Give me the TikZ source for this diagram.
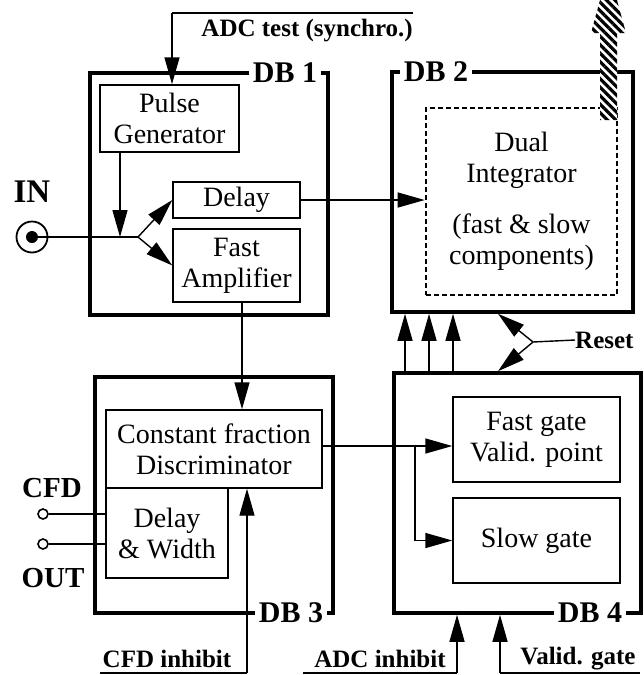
\documentclass[tikz,border=0pt]{standalone}
\usepackage{fontspec}
\setmainfont{Liberation Serif}
\usetikzlibrary{arrows.meta,patterns.meta}

\tikzset{
  blk/.style={draw,line width=1.4pt,align=center,inner sep=0pt,font=\fontsize{28}{31}\selectfont},
  dbframe/.style={draw,line width=3.6pt,inner sep=0pt},
  dblab/.style={fill=white,inner xsep=4pt,inner ysep=1pt,font=\bfseries\fontsize{30}{32}\selectfont},
  sig/.style={font=\bfseries\fontsize{25}{27}\selectfont},
  wire/.style={line width=1.4pt},
  arr/.style={wire,-{Triangle[length=27pt,width=15pt]}},
}

\begin{document}
\begin{tikzpicture}[x=1pt,y=-1pt]
    \useasboundingbox (0,0) rectangle (643,675);
    % daughter boards
    \node[dbframe,minimum width=238pt,minimum height=242pt] (db1) at (209,194) {};
    \node[dbframe,minimum width=241pt,minimum height=240pt] (db2) at (512.5,192) {};
    \node[dbframe,minimum width=238pt,minimum height=236pt] (db3) at (214,495) {};
    \node[dbframe,minimum width=247pt,minimum height=240pt] (db4) at (517.5,493) {};
    \node[dblab] (db1lab) at (285,73) {DB 1};
    \node[dblab] (db2lab) at (436,72) {DB 2};
    \node[dblab] (db3lab) at (291,613) {DB 3};
    \node[dblab] (db4lab) at (590,613) {DB 4};

    % blocks
    \node[blk,minimum width=139pt,minimum height=67pt] (pulse) at (169.5,118.5) {Pulse\\Generator};
    \node[blk,minimum width=127pt,minimum height=36pt] (delay) at (236.5,200) {Delay};
    \node[blk,minimum width=127pt,minimum height=73pt] (amp) at (236.5,265.5) {Fast\\Amplifier};
    \node[blk,dash pattern=on 5pt off 3pt,line width=2.6pt,minimum width=191pt,minimum height=187pt] (dual) at (521.5,201.5) {Dual\\Integrator\\[20pt](fast \& slow\\components)};
    \node[blk,minimum width=216pt,minimum height=78pt] (cfd) at (214,449) {Constant fraction\\Discriminator};
    \node[blk,minimum width=122pt,minimum height=90pt] (dw) at (167,533) {Delay\\\& Width};
    \node[blk,minimum width=167pt,minimum height=85pt] (fast) at (536.5,439.5) {Fast gate\\Valid. point};
    \node[blk,minimum width=167pt,minimum height=85pt] (slow) at (536.5,540.5) {Slow gate};

    % input
    \node[font=\bfseries\fontsize{33}{35}\selectfont] (inlab) at (32,192) {IN};
    \node[circle,draw,line width=1.8pt,minimum size=31pt,inner sep=0pt] (in) at (32,237) {};
    \node[circle,fill,minimum size=12pt,inner sep=0pt] (indot) at (in) {};
    \coordinate (junc) at (138,237);
    \coordinate (jin) at (120,237);
    \draw[wire] (indot.center) -- (junc);
    \draw[arr] (pulse.south -| jin) -- (jin);
    \draw[arr] (junc) -- (delay.west);
    \draw[arr] (junc) -- (amp.west);
    \draw[arr] (delay.east) -- (delay.east -| dual.west);

    % ADC test
    \coordinate (adctop) at (172,13);
    \coordinate (adcend) at (413,13);
    \draw[wire] (adcend) -- (adctop);
    \draw[arr] (adctop) -- (adctop |- pulse.north);
    \node[sig,anchor=north east,inner sep=0pt] (adclab) at (413,19) {ADC test (synchro.)};

    % output of the integrator
    \begin{scope}
      \clip (0,0) rectangle (643,675);
      \fill[preaction={fill=white},pattern={Lines[angle=-45,distance=6pt,line width=3.2pt]}]
        (600,120) -- (600,33) -- (591,33) -- (608.5,-31) -- (626,33) -- (617,33) -- (617,120) -- cycle;
    \end{scope}

    % DB 1 to DB 3
    \draw[arr] ([xshift=5.5pt]amp.south) -- ([xshift=5.5pt]amp.south |- cfd.north);
    \coordinate (cfdinh) at (247,673);
    \coordinate (cfdinhl) at (100,673);
    \draw[wire] (cfdinhl) -- (cfdinh);
    \draw[arr] (cfdinh) -- (cfdinh |- cfd.south);
    \node[sig] (cfdinhlab) at (167,659) {CFD inhibit};

    % CFD outputs
    \node[circle,draw,line width=1.6pt,minimum size=10pt,inner sep=0pt] (out1) at (43,514) {};
    \node[circle,draw,line width=1.6pt,minimum size=10pt,inner sep=0pt] (out2) at (43,544) {};
    \draw[wire] (out1.east) -- (out1.east -| dw.west);
    \draw[wire] (out2.east) -- (out2.east -| dw.west);
    \node[font=\bfseries\fontsize{29}{31}\selectfont] (cfdlab) at (52,488) {CFD};
    \node[font=\bfseries\fontsize{29}{31}\selectfont] (outlab) at (53,578) {OUT};

    % DB 3 to DB 4
    \coordinate (cfdo) at (322,446);
    \coordinate (br) at (415,446);
    \draw[arr] (cfdo) -- (cfdo -| fast.west);
    \draw[arr] (br) -- (br |- slow.west) -- (slow.west);

    % DB 4 to DB 2
    \foreach \x in {405,429,453}
      \draw[arr] (\x,0 |- db4.north) -- (\x,0 |- db2.south);
    \coordinate (rj) at (533,342);
    \draw[arr] (rj) -- ([xshift=-35pt]rj |- db2.south);
    \draw[arr] (rj) -- ([xshift=-35pt]rj |- db4.north);
    \node[sig,anchor=west,inner sep=0pt] (reset) at (575,340) {Reset};
    \draw[wire] (rj) -- (reset.west);

    % DB 4 inputs
    \coordinate (adcinh) at (457,673);
    \coordinate (adcinhl) at (303,673);
    \draw[wire] (adcinhl) -- (adcinh);
    \draw[arr] (adcinh) -- (adcinh |- db4.south);
    \node[sig] (adcinhlab) at (380,659) {ADC inhibit};
    \coordinate (vg) at (500,673);
    \coordinate (vgr) at (640,673);
    \draw[wire] (vgr) -- (vg);
    \draw[arr] (vg) -- (vg |- db4.south);
    \node[sig] (vglab) at (578,659) {Valid. gate};
\end{tikzpicture}
\end{document}
